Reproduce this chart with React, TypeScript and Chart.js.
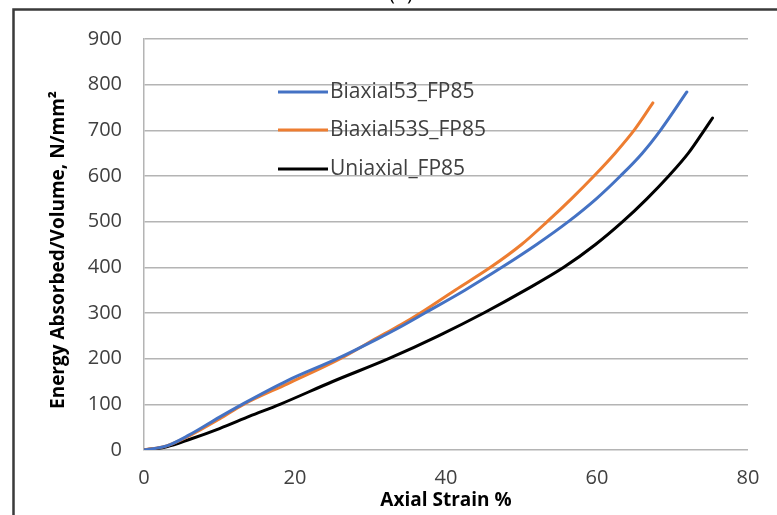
import React, { useEffect, useRef } from "react";
import { Chart, registerables } from "chart.js";

Chart.register(...registerables);

const seriesNames = ["Biaxial53_FP85", "Biaxial53S_FP85", "Uniaxial_FP85"];
const seriesColors = ["#4472C4", "#ED7D31", "#000000"];

const biaxialStrain = [0, 3, 6, 10, 13, 19, 25.6, 31, 34, 37.2, 42.5, 47.4, 52, 56.2, 59.9, 63.1, 66, 68.4, 71.9];
const biaxialEnergy = [0, 9, 33, 72, 100, 152, 200, 244, 270, 300, 350, 400, 450, 500, 550, 600, 650, 700, 784];

const biaxialSStrain = [0, 3, 6, 10, 13.2, 19, 26, 31, 34, 36.6, 41.2, 45.9, 50, 53.4, 56.6, 59.6, 62.4, 65, 67.4];
const biaxialSEnergy = [0, 9, 31, 68, 100, 145, 200, 247, 274, 300, 350, 400, 450, 500, 550, 600, 650, 702, 760];

const uniaxialStrain = [0, 3, 6, 10, 14, 18, 25, 32.4, 39, 45, 50.5, 55.6, 59.8, 63.4, 66.6, 69.5, 72.1, 74.2, 75.3];
const uniaxialEnergy = [0, 7, 23, 47, 74, 100, 150, 200, 250, 300, 350, 400, 450, 500, 550, 600, 650, 700, 727];

const xTicks = [0, 20, 40, 60, 80];
const yTicks = [0, 100, 200, 300, 400, 500, 600, 700, 800, 900];

const xTitle = "Axial Strain %";
const yTitle = "Energy Absorbed/Volume, N/mm²";
const panelLabel = "(b)";

const FONT = "'Open Sans', 'Noto Sans', sans-serif";

const toPoints = (xs: number[], ys: number[]) => xs.map((x, i) => ({ x, y: ys[i] }));

const decorPlugin = {
  id: "decor",
  afterDraw(chart: any) {
    const ctx = chart.ctx;
    const area = chart.chartArea;
    ctx.save();
    // outer frame
    ctx.strokeStyle = "#3a3a3a";
    ctx.lineWidth = 2.5;
    ctx.beginPath();
    ctx.moveTo(13.5, 520);
    ctx.lineTo(13.5, 9.5);
    ctx.lineTo(790, 9.5);
    ctx.stroke();
    // panel label (cut off at top)
    ctx.fillStyle = "#000";
    ctx.font = `20px ${FONT}`;
    ctx.textAlign = "center";
    ctx.textBaseline = "alphabetic";
    ctx.fillText(panelLabel, 401, 0);
    // axis titles
    ctx.font = `bold 19px ${FONT}`;
    ctx.fillStyle = "#000";
    ctx.textAlign = "center";
    ctx.textBaseline = "middle";
    ctx.fillText(xTitle, (area.left + area.right) / 2, 501);
    ctx.save();
    ctx.translate(59, 250);
    ctx.rotate(-Math.PI / 2);
    ctx.font = `bold 19px ${FONT}`;
    ctx.fillText(yTitle, 0, 0);
    ctx.restore();
    // legend
    const rows = [92, 130, 169];
    chart.data.datasets.forEach((ds: any, i: number) => {
      const y = rows[i];
      ctx.strokeStyle = ds.borderColor;
      ctx.lineWidth = 3;
      ctx.lineCap = "butt";
      ctx.beginPath();
      ctx.moveTo(278, y);
      ctx.lineTo(328, y);
      ctx.stroke();
      ctx.fillStyle = "#404040";
      ctx.font = `21px ${FONT}`;
      ctx.textAlign = "left";
      ctx.textBaseline = "middle";
      ctx.fillText(ds.label, 330, y);
    });
    ctx.restore();
  },
};

export default function App() {
  const ref = useRef<HTMLCanvasElement | null>(null);
  useEffect(() => {
    if (!ref.current) return;
    const mk = (i: number, xs: number[], ys: number[]) => ({
      label: seriesNames[i],
      data: toPoints(xs, ys),
      borderColor: seriesColors[i],
      backgroundColor: seriesColors[i],
      borderWidth: 3,
      pointRadius: 0,
      cubicInterpolationMode: "monotone" as const,
      borderCapStyle: "round" as const,
      fill: false,
    });
    const chart = new Chart(ref.current, {
      type: "line",
      data: {
        datasets: [
          mk(0, biaxialStrain, biaxialEnergy),
          mk(1, biaxialSStrain, biaxialSEnergy),
          mk(2, uniaxialStrain, uniaxialEnergy),
        ],
      },
      options: {
        responsive: false,
        animation: false,
        layout: { padding: { left: 0, right: 29, top: 39, bottom: 0 } },
        plugins: { legend: { display: false }, tooltip: { enabled: false }, title: { display: false } },
        scales: {
          x: {
            type: "linear",
            min: 0,
            max: 80,
            afterFit: (s: any) => { s.height = 65; },
            afterBuildTicks: (s: any) => { s.ticks = xTicks.map((v) => ({ value: v })); },
            grid: { display: false, drawTicks: false },
            border: { display: false },
            ticks: { color: "#404040", font: { family: FONT, size: 20 }, padding: 16 },
          },
          y: {
            type: "linear",
            min: 0,
            max: 900,
            afterFit: (s: any) => { s.width = 144; },
            afterBuildTicks: (s: any) => { s.ticks = yTicks.map((v) => ({ value: v })); },
            grid: { color: "#b4b4b4", lineWidth: 1.5, drawTicks: false },
            border: { display: true, color: "#b4b4b4", width: 1.5 },
            ticks: { color: "#404040", font: { family: FONT, size: 20 }, padding: 22 },
          },
        },
      },
      plugins: [decorPlugin],
    });
    return () => chart.destroy();
  }, []);
  return (
    <div style={{ position: "fixed", left: 0, top: 0, width: 777, height: 515, background: "#fff" }}>
      <canvas ref={ref} width={777} height={515} style={{ display: "block" }} />
    </div>
  );
}
